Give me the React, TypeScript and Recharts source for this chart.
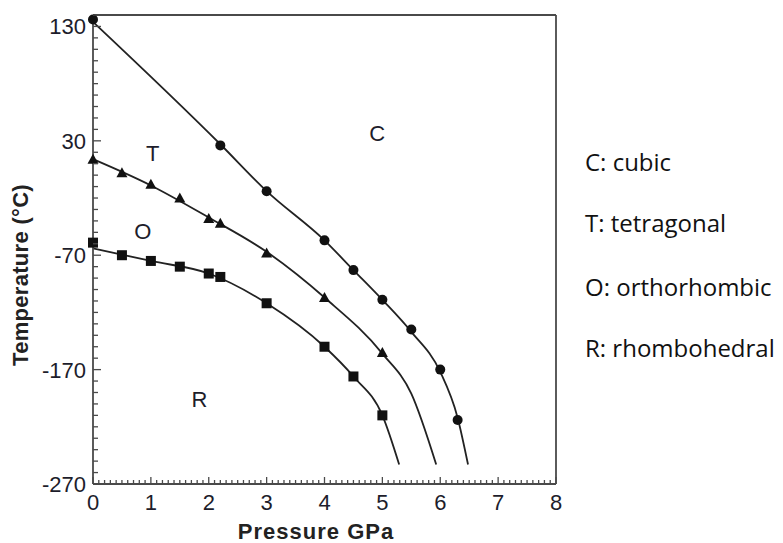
import React from 'react';
import { ComposedChart, Line, Scatter, XAxis, YAxis } from 'recharts';

// measured points (pressure GPa, temperature °C)
const cubicPts = [
  { p: 0, t: 136 }, { p: 2.2, t: 26 }, { p: 3, t: -14 }, { p: 4, t: -57 },
  { p: 4.5, t: -83 }, { p: 5, t: -109 }, { p: 5.5, t: -135 }, { p: 6, t: -170 },
  { p: 6.3, t: -214 },
];
const tetraPts = [
  { p: 0, t: 14 }, { p: 0.5, t: 2 }, { p: 1, t: -8 }, { p: 1.5, t: -20 },
  { p: 2, t: -38 }, { p: 2.2, t: -42 }, { p: 3, t: -68 }, { p: 4, t: -107 },
  { p: 5, t: -155 },
];
const orthoPts = [
  { p: 0, t: -59 }, { p: 0.5, t: -70 }, { p: 1, t: -75 }, { p: 1.5, t: -80 },
  { p: 2, t: -86 }, { p: 2.2, t: -89 }, { p: 3, t: -112 }, { p: 4, t: -150 },
  { p: 4.5, t: -176 }, { p: 5, t: -210 },
];

// fitted boundary curves
const cubicFit = [
  { p: 0, t: 134 }, { p: 2.2, t: 27 }, { p: 3, t: -14 }, { p: 4, t: -57 },
  { p: 4.5, t: -83 }, { p: 5, t: -109 }, { p: 5.5, t: -137 }, { p: 6, t: -172 },
  { p: 6.3, t: -212 }, { p: 6.48, t: -253 },
];
const tetraFit = [
  { p: 0, t: 14 }, { p: 1, t: -9 }, { p: 2, t: -37 }, { p: 3, t: -67 },
  { p: 4, t: -107 }, { p: 5, t: -156 }, { p: 5.5, t: -191 }, { p: 5.93, t: -253 },
];
const orthoFit = [
  { p: 0, t: -64 }, { p: 1, t: -75 }, { p: 2, t: -86 }, { p: 3, t: -112 },
  { p: 4, t: -150 }, { p: 4.5, t: -176 }, { p: 5, t: -210 }, { p: 5.29, t: -253 },
];

const regionLabels = [
  { p: 4.91, t: 37, name: 'C' },
  { p: 1.03, t: 19, name: 'T' },
  { p: 0.86, t: -49, name: 'O' },
  { p: 1.84, t: -196, name: 'R' },
];

const xMajor = [0, 1, 2, 3, 4, 5, 6, 7, 8];
const yMajor = [-270, -170, -70, 30, 130];
const legendItems = ['C: cubic', 'T: tetragonal', 'O: orthorhombic', 'R: rhombohedral'];

const xTicks: number[] = [];
for (let i = 0; i <= 80; i++) xTicks.push(i / 10);
const yTicks: number[] = [];
for (let v = -270; v <= 140; v += 10) yTicks.push(v);

const AXIS = '#4a4a4a';
const INK = '#1d1d2b';

const XTick = (props: any) => {
  const { x, y, payload, side } = props;
  const v = payload.value;
  const major = xMajor.some((m) => Math.abs(m - v) < 1e-6);
  const len = major ? 7 : 4;
  const dir = side === 'top' ? 1 : -1;
  return (
    <g>
      <line x1={x} x2={x} y1={y} y2={y + dir * len} stroke={AXIS} strokeWidth={1.3} />
      {side !== 'top' && major && (
        <text x={x} y={y + 26} textAnchor="middle" fontSize={22} fill={INK} fontFamily="Liberation Sans, Arial">
          {Math.round(v)}
        </text>
      )}
    </g>
  );
};

const YTick = (props: any) => {
  const { x, y, payload, side } = props;
  const v = payload.value;
  const major = yMajor.includes(v);
  const len = major ? 8 : 5;
  const dir = side === 'right' ? -1 : 1;
  return (
    <g>
      <line x1={x} x2={x + dir * len} y1={y} y2={y} stroke={AXIS} strokeWidth={1.3} />
      {side !== 'right' && major && (
        <text x={x - 7} y={y + 8} textAnchor="end" fontSize={22} fill={INK} fontFamily="Liberation Sans, Arial">
          {v}
        </text>
      )}
    </g>
  );
};

const circle = (p: any) => <circle cx={p.cx} cy={p.cy} r={5} fill="#111" />;
const square = (p: any) => <rect x={p.cx - 5} y={p.cy - 5} width={10} height={10} fill="#111" />;
const triangle = (p: any) => (
  <polygon points={`${p.cx},${p.cy - 5.5} ${p.cx - 5.5},${p.cy + 4.5} ${p.cx + 5.5},${p.cy + 4.5}`} fill="#111" />
);
const regionText = (p: any) => (
  <text x={p.cx} y={p.cy + 8} textAnchor="middle" fontSize={22} fill={INK} fontFamily="Liberation Sans, Arial">
    {p.payload?.name ?? p.name}
  </text>
);

export default function App() {
  return (
    <div style={{ position: 'absolute', left: 0, top: 0, width: 783, height: 543, background: '#fff' }}>
      <ComposedChart width={783} height={543} margin={{ top: 14, right: 226, bottom: 0, left: 0 }}>
        <XAxis
          xAxisId={0} dataKey="p" type="number" domain={[0, 8]} ticks={xTicks} interval={0}
          height={59} tickSize={0} tickMargin={0} tick={<XTick side="bottom" />} tickLine={false}
          stroke={AXIS} strokeWidth={1.8}
        />
        <XAxis
          xAxisId="top" orientation="top" dataKey="p" type="number" domain={[0, 8]} ticks={xTicks} interval={0}
          height={1} tickSize={0} tickMargin={0} tick={<XTick side="top" />} tickLine={false}
          stroke={AXIS} strokeWidth={1.8}
        />
        <YAxis
          yAxisId={0} dataKey="t" type="number" domain={[-270, 140]} ticks={yTicks} interval={0}
          width={93} tickSize={0} tickMargin={0} tick={<YTick side="left" />} tickLine={false}
          stroke={AXIS} strokeWidth={1.8}
        />
        <YAxis
          yAxisId="right" orientation="right" dataKey="t" type="number" domain={[-270, 140]} ticks={yTicks} interval={0}
          width={1} tickSize={0} tickMargin={0} tick={<YTick side="right" />} tickLine={false}
          stroke={AXIS} strokeWidth={1.8}
        />
        <Line data={cubicFit} dataKey="t" type="monotone" stroke="#222" strokeWidth={1.8} dot={false} isAnimationActive={false} />
        <Line data={tetraFit} dataKey="t" type="monotone" stroke="#222" strokeWidth={1.8} dot={false} isAnimationActive={false} />
        <Line data={orthoFit} dataKey="t" type="monotone" stroke="#222" strokeWidth={1.8} dot={false} isAnimationActive={false} />
        <Scatter data={cubicPts} dataKey="t" shape={circle} isAnimationActive={false} />
        <Scatter data={tetraPts} dataKey="t" shape={triangle} isAnimationActive={false} />
        <Scatter data={orthoPts} dataKey="t" shape={square} isAnimationActive={false} />
        <Scatter data={regionLabels} dataKey="t" shape={regionText} isAnimationActive={false} />
      </ComposedChart>

      <div
        style={{
          position: 'absolute', left: 21, top: 275, transform: 'translate(-50%, -50%) rotate(-90deg)',
          whiteSpace: 'nowrap', fontFamily: 'Liberation Sans, Arial', fontWeight: 'bold', fontSize: 22, color: '#222',
          letterSpacing: 0.3,
        }}
      >
        Temperature (°C)
      </div>
      <div
        style={{
          position: 'absolute', left: 316, top: 532, transform: 'translate(-50%, -50%)',
          whiteSpace: 'nowrap', fontFamily: 'Liberation Sans, Arial', fontWeight: 'bold', fontSize: 22, color: '#222',
          letterSpacing: 1,
        }}
      >
        Pressure GPa
      </div>

      {legendItems.map((s, i) => (
        <div
          key={s}
          style={{
            position: 'absolute', left: 585, top: [162, 223, 287, 348][i], transform: 'translateY(-50%)',
            whiteSpace: 'nowrap', fontFamily: 'Open Sans', fontSize: 24, color: '#111', lineHeight: 1,
          }}
        >
          {s}
        </div>
      ))}
    </div>
  );
}
